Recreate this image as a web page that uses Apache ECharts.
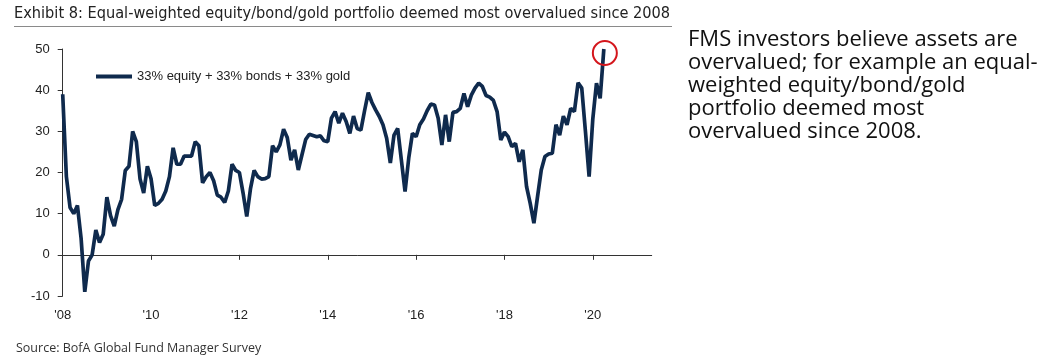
<!DOCTYPE html>
<html>
<head>
<meta charset="utf-8">
<script src="https://cdn.jsdelivr.net/npm/echarts@6/dist/echarts.min.js"></script>
<style>
html,body{margin:0;padding:0;background:#fff;}
#chart{width:1050px;height:356px;}
</style>
</head>
<body>
<div id="chart"></div>
<script>
// Monthly survey readings, Jan 2008 .. Apr 2020
const seriesName = '33% equity + 33% bonds + 33% gold';
const values = [
  39, 19, 11.5, 10, 12, 4, -9, -1.5, 0, 6, 3, 5,              // 2008
  14, 9.5, 7, 11, 13.5, 20.5, 21.5, 30, 27.5, 18.5, 15, 21.5,  // 2009
  18.5, 12, 12.5, 13.5, 15.5, 19, 26, 22, 22, 24, 24, 24,      // 2010
  27.5, 26.5, 17.5, 19, 20, 18, 14.5, 14, 12.7, 15.5, 22, 20.5,// 2011
  20, 15, 9.3, 16, 20.5, 19, 18.4, 18.5, 19, 26.5, 25, 26.7,   // 2012
  30.5, 28.5, 23, 25.5, 20.6, 24.3, 28, 29.3, 29, 28.7, 28.9, 27.7, // 2013
  27.5, 33.2, 34.8, 32, 34.4, 32.4, 29.5, 33.7, 30.7, 30.3, 35, 39.4, // 2014
  37, 35.2, 33.6, 31.6, 28.3, 22.3, 29.1, 30.7, 23, 15.4, 23.5, 29.5, // 2015
  28.7, 31.6, 33, 35, 36.6, 36.4, 33.2, 26.7, 34, 27.5, 34.6, 34.8,   // 2016
  35.6, 39.2, 36, 38.8, 40.5, 41.7, 40.9, 38.7, 38.3, 37.5, 34.8, 27.9, // 2017
  29.8, 28.7, 26.3, 27.1, 22.6, 25.5, 16.6, 12.5, 7.7, 14.2, 20.6, 23.9, // 2018
  24.5, 24.7, 31.6, 29.1, 33.7, 31.6, 35.6, 34.8, 41.8, 40.5, 30, 19,    // 2019
  33, 41.7, 38, 50                                                       // 2020
];
const xTickMonths = [0, 24, 48, 72, 96, 120, 144];
const xTickLabels = ["'08", "'10", "'12", "'14", "'16", "'18", "'20"];

const title = 'Exhibit 8: Equal-weighted equity/bond/gold portfolio deemed most overvalued since 2008';
const sourceText = 'Source: BofA Global Fund Manager Survey';
const sideText = 'FMS investors believe assets are\novervalued; for example an equal-\nweighted equity/bond/gold\nportfolio deemed most\novervalued since 2008.';

const lineColor = '#0f2a4d';
const axisColor = '#333333';
const labelFont = '"Liberation Sans", Arial, sans-serif';

const chart = echarts.init(document.getElementById('chart'), null, {renderer: 'canvas'});
chart.setOption({
  animation: false,
  backgroundColor: '#ffffff',
  grid: {left: 62.7, right: 398.3, top: 49, bottom: 60, containLabel: false},
  legend: {
    data: [seriesName],
    left: 91, top: 65,
    icon: 'rect', itemWidth: 36, itemHeight: 4,
    textStyle: {fontSize: 13, color: '#222', fontFamily: labelFont}
  },
  xAxis: [
    {
      type: 'value', min: 0, max: 160, position: 'bottom',
      axisLine: {show: false, onZero: false},
      axisTick: {show: false},
      splitLine: {show: false},
      axisLabel: {
        customValues: xTickMonths,
        formatter: v => xTickLabels[xTickMonths.indexOf(v)] || '',
        margin: 13, fontSize: 13, color: '#222', fontFamily: labelFont
      }
    },
    {
      type: 'value', min: 0, max: 160, position: 'top',
      axisLine: {show: true, onZero: true, lineStyle: {color: axisColor, width: 1}},
      axisTick: {show: true, inside: true, length: 5, customValues: xTickMonths, lineStyle: {color: axisColor}},
      axisLabel: {show: false},
      splitLine: {show: false}
    }
  ],
  yAxis: {
    type: 'value', min: -10, max: 50, interval: 10,
    axisLine: {show: true, lineStyle: {color: axisColor, width: 1}},
    axisTick: {show: true, length: 5, lineStyle: {color: axisColor}},
    splitLine: {show: false},
    axisLabel: {margin: 13, fontSize: 13, color: '#222', fontFamily: labelFont}
  },
  series: [{
    name: seriesName,
    type: 'line',
    xAxisIndex: 0,
    data: values.map((v, i) => [i, v]),
    symbol: 'none',
    lineStyle: {color: lineColor, width: 3.7},
    itemStyle: {color: lineColor},
    markPoint: {
      symbol: 'circle', symbolSize: 24, symbolOffset: [1, 4],
      itemStyle: {color: 'rgba(0,0,0,0)', borderColor: '#d4161c', borderWidth: 2},
      label: {show: false},
      data: [{type: 'max'}]
    }
  }],
  graphic: [
    {
      type: 'text', left: 14, top: 6,
      style: {text: title, fill: '#222', font: '16.2px "DejaVu Sans Condensed", "Liberation Sans Narrow", sans-serif'}
    },
    {
      type: 'line', shape: {x1: 14, y1: 26.5, x2: 672, y2: 26.5},
      style: {stroke: '#8a8a8a', lineWidth: 1}
    },
    {
      type: 'text', left: 16, top: 342,
      style: {text: sourceText, fill: '#333', font: '12.5px "Open Sans", sans-serif'}
    },
    {
      type: 'text', left: 688, top: 28,
      style: {text: sideText, fill: '#111', font: '22px "Open Sans", sans-serif', lineHeight: 23}
    }
  ]
});
</script>
</body>
</html>
